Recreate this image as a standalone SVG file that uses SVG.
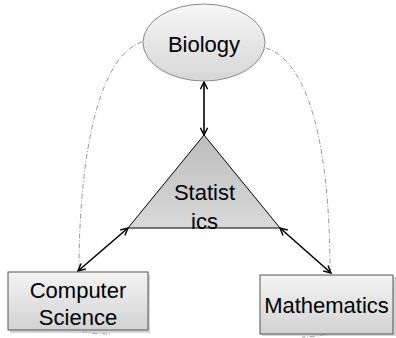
<svg xmlns="http://www.w3.org/2000/svg" width="396" height="338" viewBox="0 0 396 338">
  <defs>
    <style>
      .lbl { font-family: "Liberation Sans", Arial, sans-serif; font-size: 22px; fill: #000; text-anchor: middle; }
      .curve { fill: none; stroke: #9a9a9a; stroke-width: 1; stroke-dasharray: 5 2 1 2; }
      .arrow { fill: none; stroke: #000; stroke-width: 1.6; marker-start: url(#head); marker-end: url(#head); }
      .box { fill: url(#boxGrad); stroke: #555; stroke-width: 1; }
      .shadow { fill: #b8b8b8; opacity: 0.6; }
    </style>
    <linearGradient id="ellGrad" x1="0" y1="0" x2="0" y2="1">
      <stop offset="0" stop-color="#f7f7f7"/>
      <stop offset="1" stop-color="#d6d6d6"/>
    </linearGradient>
    <linearGradient id="triGrad" x1="0" y1="0" x2="0" y2="1">
      <stop offset="0" stop-color="#bdbdbd"/>
      <stop offset="1" stop-color="#d9d9d9"/>
    </linearGradient>
    <linearGradient id="boxGrad" x1="0" y1="0" x2="0" y2="1">
      <stop offset="0" stop-color="#f4f4f4"/>
      <stop offset="1" stop-color="#d2d2d2"/>
    </linearGradient>
    <marker id="head" viewBox="0 0 10 10" refX="9" refY="5" markerWidth="9" markerHeight="9" markerUnits="userSpaceOnUse" orient="auto-start-reverse">
      <path d="M1,1 L9,5 L1,9" fill="none" stroke="#000" stroke-width="1.6"/>
    </marker>
  </defs>

  <g id="connectors">
    <path class="curve" d="M142,42 C100,55 79,150 79,272 L79,330 Q86,334 112,334"/>
    <path class="curve" d="M266,48 C310,62 330,150 330,272 L330,333 Q324,336 302,337"/>
    <line class="arrow" x1="204" y1="82" x2="204" y2="135"/>
    <line class="arrow" x1="128" y1="228" x2="78" y2="271"/>
    <line class="arrow" x1="280" y1="228" x2="331" y2="273"/>
  </g>

  <g id="biology">
    <ellipse cx="204" cy="42.5" rx="61" ry="38.5" fill="url(#ellGrad)" stroke="#8a8a8a" stroke-width="1"/>
    <text class="lbl" x="204" y="52">Biology</text>
  </g>

  <g id="statistics">
    <polygon points="204,135 128,228 280,228" fill="url(#triGrad)" stroke="#000" stroke-width="1"/>
    <text class="lbl" x="204.5" y="200">Statist</text>
    <text class="lbl" x="204.5" y="229">ics</text>
  </g>

  <g id="computer-science">
    <rect class="shadow" x="10" y="274" width="140" height="59"/>
    <rect class="box" x="8" y="272" width="140" height="58"/>
    <text class="lbl" x="78" y="298">Computer</text>
    <text class="lbl" x="78" y="325">Science</text>
  </g>

  <g id="mathematics">
    <rect class="shadow" x="262" y="277" width="134" height="59"/>
    <rect class="box" x="260" y="275" width="133" height="59"/>
    <text class="lbl" x="326.5" y="313">Mathematics</text>
  </g>
</svg>
